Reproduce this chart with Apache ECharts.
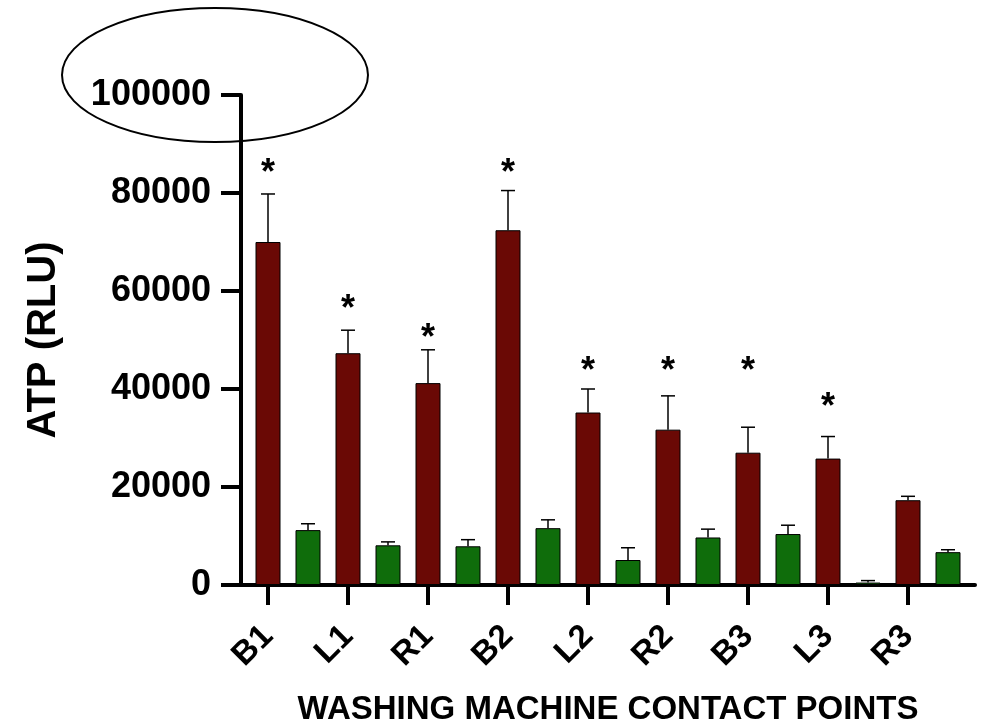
<!DOCTYPE html>
<html>
<head>
<meta charset="utf-8">
<script src="https://cdn.jsdelivr.net/npm/echarts@6/dist/echarts.min.js"></script>
<style>
  html, body { margin: 0; padding: 0; background: #ffffff; }
  #chart { width: 986px; height: 721px; }
</style>
</head>
<body>
<div id="chart"></div>
<script>
const categories = ['B1', 'L1', 'R1', 'B2', 'L2', 'R2', 'B3', 'L3', 'R3'];
const redValues = [70000, 47300, 41200, 72400, 35200, 31700, 27000, 25800, 17300];
const redErrors = [9800, 4700, 6800, 8100, 4800, 6900, 5200, 4500, 800];
const greenValues = [11200, 8100, 7900, 11600, 5100, 9700, 10400, 500, 6700];
const greenErrors = [1300, 700, 1350, 1700, 2500, 1700, 1800, 400, 500];
const starPositions = [85200, 57500, 51600, 85200, 44800, 44900, 44900, 37600, null];
const yTicks = [0, 20000, 40000, 60000, 80000, 100000];

const RED = '#6a0905';
const GREEN = '#0f6d0b';
const FONT = '"Liberation Sans", Arial, Helvetica, sans-serif';

const barData = [];
const errData = [];
const starData = [];
categories.forEach(function (c, i) {
  barData.push({ value: [2 * i, redValues[i]], itemStyle: { color: RED } });
  barData.push({ value: [2 * i + 1, greenValues[i]], itemStyle: { color: GREEN } });
  errData.push([2 * i, redValues[i], redErrors[i]]);
  errData.push([2 * i + 1, greenValues[i], greenErrors[i]]);
  if (starPositions[i] != null) starData.push([2 * i, starPositions[i]]);
});
const labelPositions = categories.map(function (c, i) { return 2 * i; });

const chart = echarts.init(document.getElementById('chart'), null, { renderer: 'canvas' });
chart.setOption({
  backgroundColor: '#ffffff',
  animation: false,
  grid: { left: 241, right: 11, top: 95, bottom: 136, containLabel: false, outerBoundsMode: 'none' },
  xAxis: {
    type: 'value',
    min: -0.675,
    max: 17.675,
    name: 'WASHING MACHINE CONTACT POINTS',
    nameLocation: 'middle',
    nameGap: 108,
    nameTextStyle: { fontFamily: FONT, fontWeight: 'bold', fontSize: 33, color: '#000' },
    splitLine: { show: false },
    axisLine: { show: true, onZero: false, lineStyle: { color: '#000', width: 4 } },
    axisTick: { show: true, length: 20, customValues: labelPositions, lineStyle: { color: '#000', width: 4 } },
    axisLabel: {
      customValues: labelPositions,
      rotate: 45,
      margin: 46,
      fontFamily: FONT, fontWeight: 'bold', fontSize: 33, color: '#000',
      formatter: function (v) { return categories[Math.round(v / 2)]; }
    }
  },
  yAxis: {
    type: 'value',
    min: 0,
    max: 100000,
    interval: 20000,
    name: 'ATP (RLU)',
    nameLocation: 'middle',
    nameRotate: 90,
    nameGap: 177,
    nameTextStyle: { fontFamily: FONT, fontWeight: 'bold', fontSize: 40, color: '#000' },
    splitLine: { show: false },
    axisLine: { show: true, onZero: false, lineStyle: { color: '#000', width: 4 } },
    axisTick: { show: true, length: 20, lineStyle: { color: '#000', width: 4 } },
    axisLabel: {
      margin: 30,
      fontFamily: FONT, fontWeight: 'bold', fontSize: 36, color: '#000',
      formatter: function (v) { return yTicks.indexOf(v) >= 0 ? String(v) : ''; }
    }
  },
  series: [
    {
      type: 'bar',
      barWidth: 25,
      data: barData,
      itemStyle: { borderColor: '#000', borderWidth: 1 },
      z: 2
    },
    {
      type: 'custom',
      z: 3,
      data: errData,
      renderItem: function (params, api) {
        const x = api.value(0), v = api.value(1), e = api.value(2);
        const p0 = api.coord([x, v]);
        const p1 = api.coord([x, v + e]);
        const half = 7;
        return {
          type: 'group',
          children: [
            { type: 'line', shape: { x1: p0[0], y1: p0[1], x2: p1[0], y2: p1[1] }, style: { stroke: '#000', lineWidth: 1.5 } },
            { type: 'line', shape: { x1: p1[0] - half, y1: p1[1], x2: p1[0] + half, y2: p1[1] }, style: { stroke: '#000', lineWidth: 1.5 } }
          ]
        };
      }
    },
    {
      type: 'custom',
      z: 3,
      data: starData,
      renderItem: function (params, api) {
        const p = api.coord([api.value(0), api.value(1)]);
        return {
          type: 'text',
          x: p[0], y: p[1] + 7,
          style: { text: '*', fontFamily: FONT, fontWeight: 'bold', fontSize: 36, fill: '#000', align: 'center', verticalAlign: 'middle' }
        };
      }
    }
  ],
  graphic: [
    {
      type: 'ellipse',
      shape: { cx: 215, cy: 75, rx: 153, ry: 67 },
      style: { fill: null, stroke: '#000', lineWidth: 2 },
      z: 100
    }
  ]
});
</script>
</body>
</html>
